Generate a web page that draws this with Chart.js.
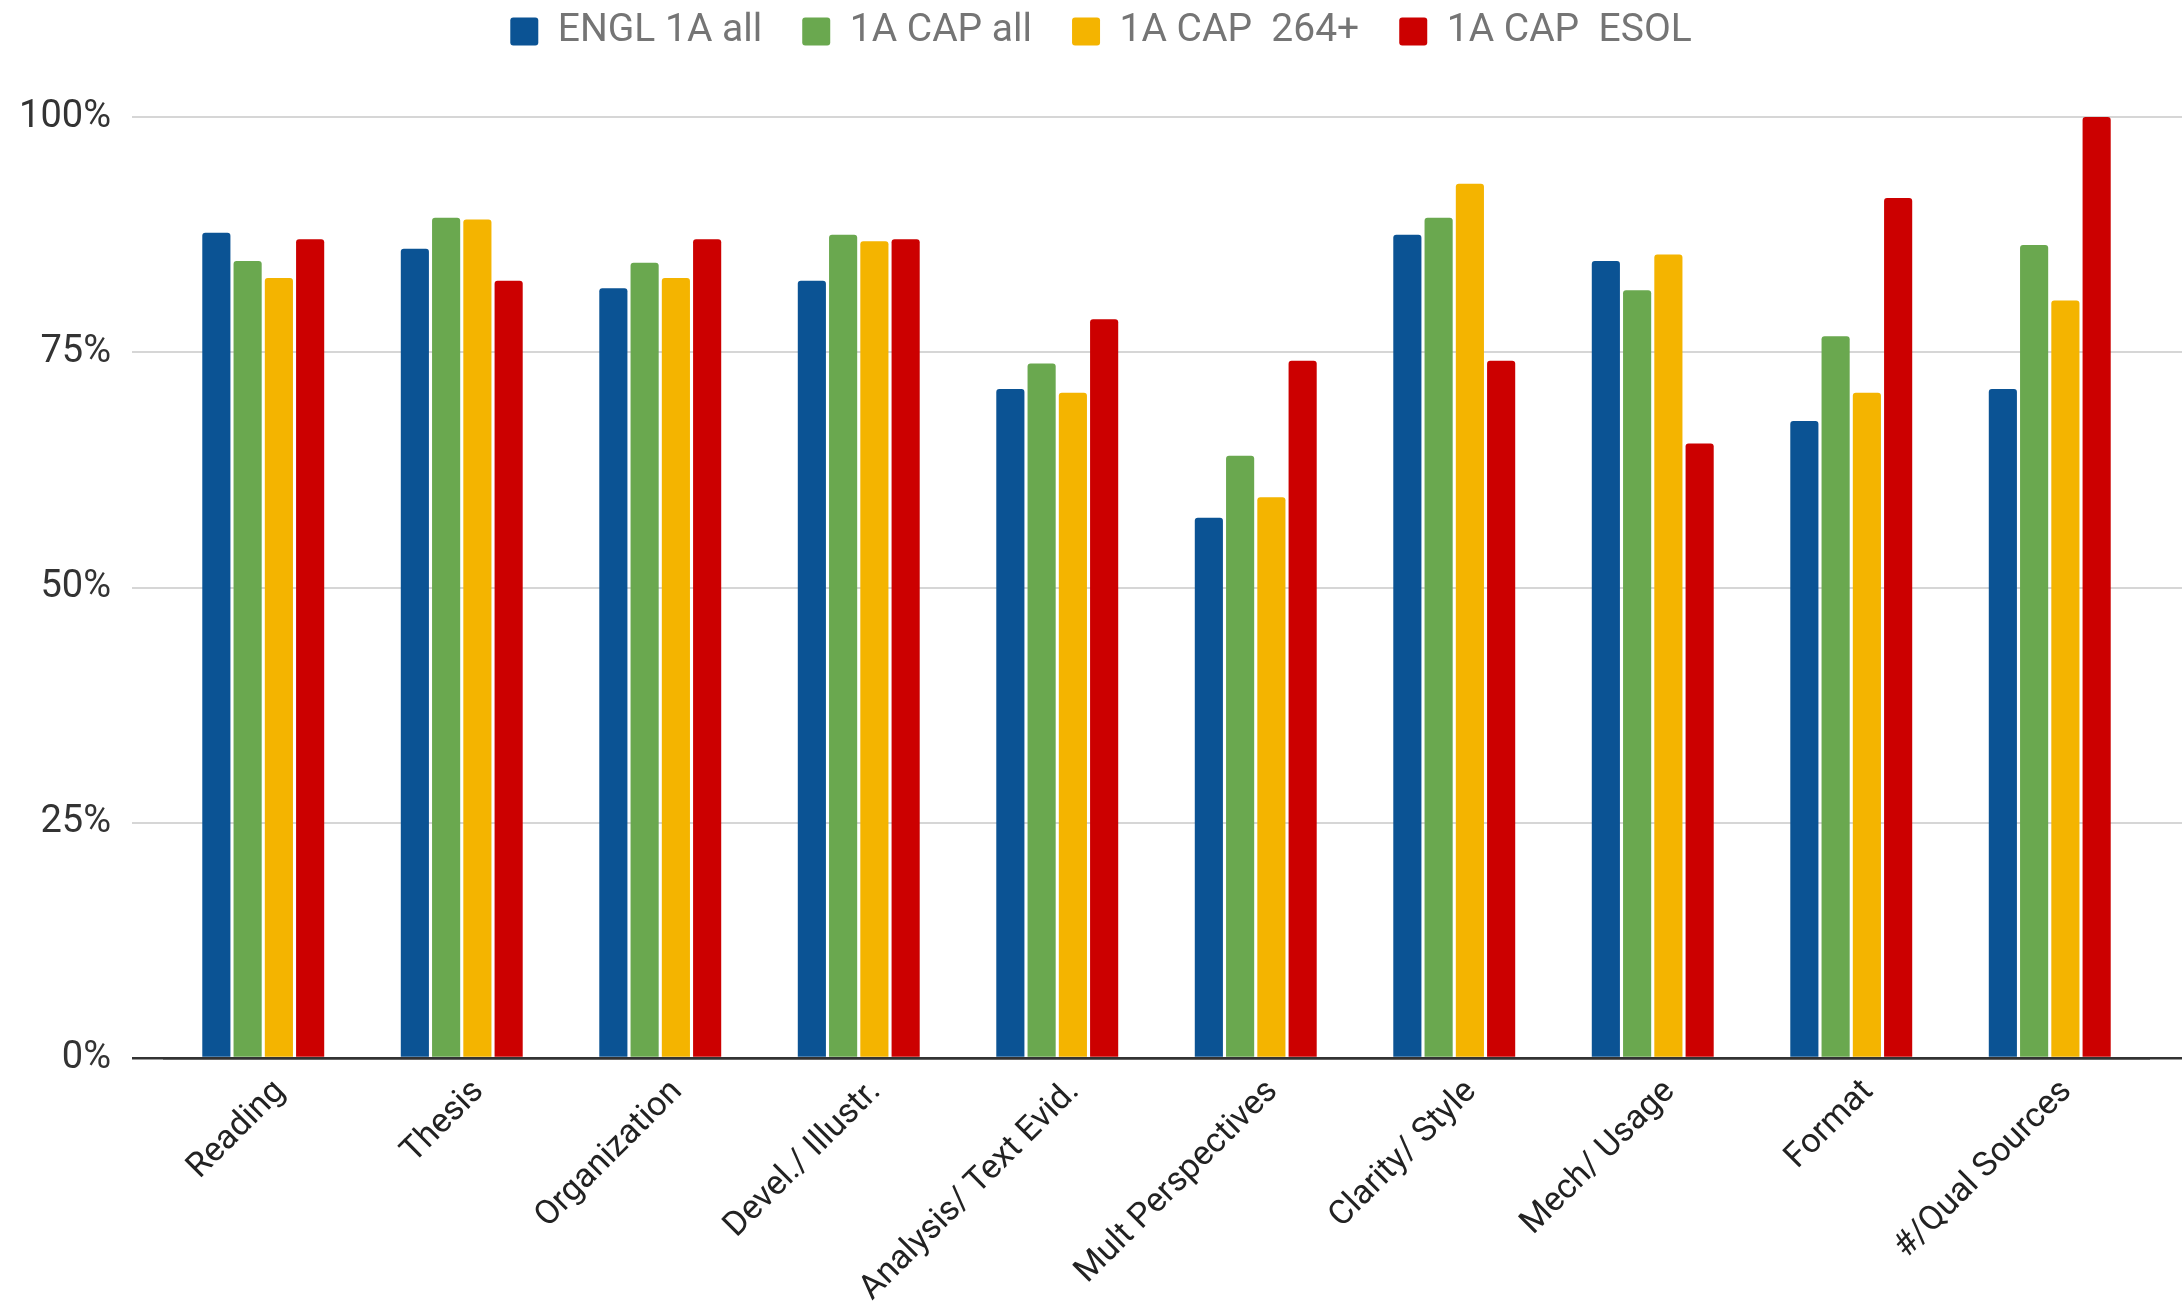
<!DOCTYPE html>
<html>
<head>
<meta charset="utf-8">
<script src="https://cdn.jsdelivr.net/npm/chart.js@4.4.1/dist/chart.umd.min.js"></script>
<style>
  html, body { margin: 0; padding: 0; background: #ffffff; }
  #wrap { width: 2182px; height: 1306px; }
</style>
</head>
<body>
<div id="wrap"><canvas id="chart" width="2182" height="1306"></canvas></div>
<script>
// Rubric categories
const categories = [
  'Reading', 'Thesis', 'Organization', 'Devel./ Illustr.', 'Analysis/ Text Evid.',
  'Mult Perspectives', 'Clarity/ Style', 'Mech/ Usage', 'Format', '#/Qual Sources'
];

// Percent of students meeting the standard, per group
const englAll   = [87.7, 86.0, 81.8, 82.6, 71.1, 57.4, 87.5, 84.7, 67.7, 71.1];
const capAll    = [84.7, 89.3, 84.5, 87.5, 73.8, 64.0, 89.3, 81.6, 76.7, 86.4];
const cap264    = [82.9, 89.1, 82.9, 86.8, 70.7, 59.6, 92.9, 85.4, 70.7, 80.5];
const capEsol   = [87.0, 82.6, 87.0, 87.0, 78.5, 74.1, 74.1, 65.3, 91.4, 100.0];

const seriesNames = ['ENGL 1A all', '1A CAP all', '1A CAP  264+', '1A CAP  ESOL'];
const seriesColors = ['#0b5394', '#6aa84f', '#f4b400', '#cc0000'];

// Y axis range and tick step (percent)
const yMin = 0, yMax = 100, yStep = 25;

Chart.defaults.font.family = 'Roboto, "Noto Sans", sans-serif';

const seriesValues = [englAll, capAll, cap264, capEsol];
const datasets = seriesValues.map((vals, i) => ({
  label: seriesNames[i],
  data: vals,
  backgroundColor: seriesColors[i],
  borderWidth: 0,
  borderRadius: 3,
  categoryPercentage: 0.63,
  barPercentage: 0.9
}));

// gridline colour/width: the zero line is the dark baseline
const gridColor = c => (c.tick && c.tick.value === 0 ? '#333333' : '#d6d6d6');
const gridWidth = c => (c.tick && c.tick.value === 0 ? 2.5 : 2);

new Chart(document.getElementById('chart'), {
  type: 'bar',
  data: { labels: categories, datasets },
  options: {
    responsive: false,
    devicePixelRatio: 1,
    animation: false,
    layout: { padding: { top: -28, left: 20, right: 0, bottom: 0 } },
    plugins: {
      legend: {
        position: 'top',
        labels: {
          font: { size: 39 },
          color: '#757575',
          boxWidth: 28,
          boxHeight: 28,
          useBorderRadius: true,
          borderRadius: 3,
          padding: 40
        }
      },
      // empty spacer between the legend and the plot area
      title: {
        display: true,
        text: '',
        weight: 500,
        padding: 0,
        font: { size: 56, lineHeight: 1 }
      },
      tooltip: { enabled: false }
    },
    scales: {
      x: {
        z: 1,
        grid: { display: false, drawTicks: false },
        border: { display: true, color: '#333333', width: 2.5 },
        ticks: {
          font: { size: 34 },
          color: '#222222',
          minRotation: 45,
          maxRotation: 45,
          padding: 14,
          labelOffset: 17,
          autoSkip: false
        },
        afterFit(scale) { scale.height = 248; }
      },
      y: {
        min: yMin,
        max: yMax,
        grid: {
          color: gridColor,
          lineWidth: gridWidth,
          drawTicks: true,
          tickLength: 32
        },
        border: { display: false },
        ticks: {
          stepSize: yStep,
          font: { size: 38 },
          color: '#333333',
          padding: 21,
          callback: v => v + '%'
        },
        afterFit(scale) { scale.width = 144; }
      },
      yRight: {
        position: 'right',
        min: yMin,
        max: yMax,
        grid: {
          drawOnChartArea: false,
          drawTicks: true,
          tickLength: 33,
          color: gridColor,
          lineWidth: gridWidth
        },
        border: { display: false },
        ticks: { stepSize: yStep, display: false },
        afterFit(scale) { scale.width = 33; }
      }
    }
  }
});
</script>
</body>
</html>
